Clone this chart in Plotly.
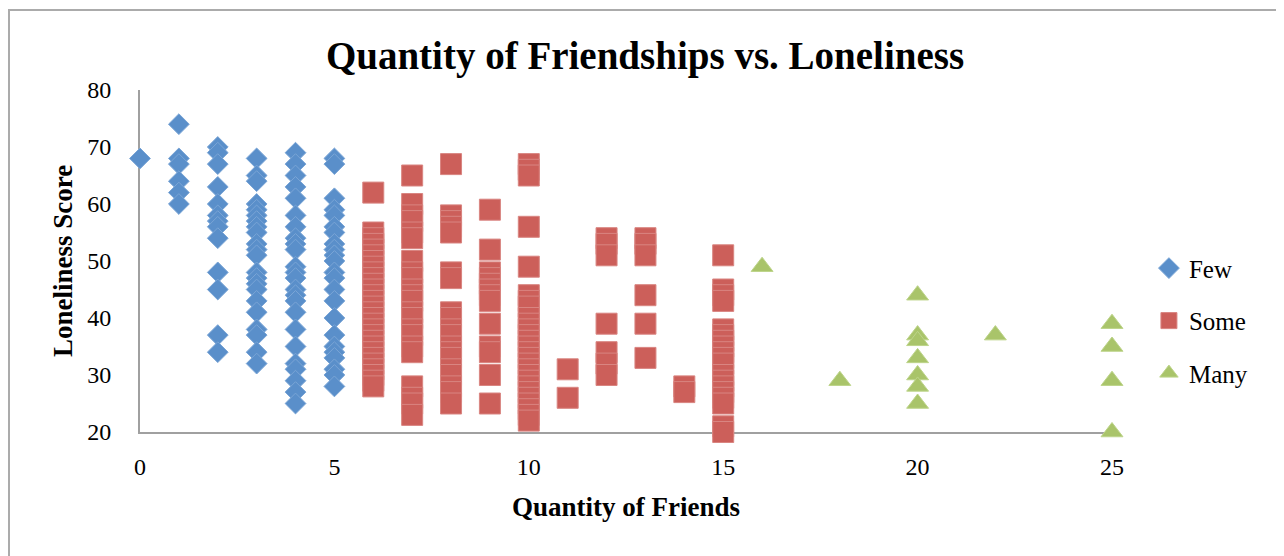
import plotly.graph_objects as go


# ==========================================================
# Data
# ==========================================================

few_friends = [0, 1, 2, 3, 4, 5]
few_scores = [
    [68],
    [74, 68, 67, 64, 62, 60],
    [70, 69, 67, 63, 60, 58, 57, 56, 54, 48, 45, 37, 34],
    [68, 65, 64, 60, 59, 58, 57, 56, 55, 53, 52, 51, 48, 47, 46, 45,
     43, 41, 38, 37, 34, 32],
    [69, 67, 65, 63, 61, 58, 56, 54, 53, 52, 49, 48, 47, 45, 44, 43,
     41, 38, 35, 32, 31, 29, 27, 25],
    [68, 67, 61, 59, 58, 56, 55, 53, 52, 51, 50, 48, 47, 45, 43, 40,
     37, 35, 34, 33, 31, 30, 28],
]

some_friends = [6, 7, 8, 9, 10, 11, 12, 13, 14, 15]
some_scores = [
    [62, 55, 54, 53, 52, 51, 50, 49, 48, 47, 46, 45, 44, 43, 42, 41,
     40, 39, 38, 37, 36, 35, 34, 33, 32, 31, 30, 29, 28],
    [65, 60, 58, 57, 55, 54, 50, 48, 47, 45, 44, 43, 41, 40, 38, 37,
     35, 34, 28, 26, 25, 23],
    [67, 58, 57, 56, 55, 48, 47, 41, 40, 38, 37, 35, 34, 33, 31, 30,
     28, 27, 25],
    [59, 52, 48, 47, 46, 45, 44, 43, 39, 35, 34, 30, 25],
    [67, 66, 65, 56, 49, 44, 43, 42, 40, 39, 38, 37, 36, 35, 34, 33,
     32, 31, 30, 29, 28, 27, 26, 25, 24, 23, 22],
    [31, 26],
    [54, 53, 51, 39, 34, 32, 30],
    [54, 53, 51, 44, 39, 33],
    [28, 27],
    [51, 45, 44, 43, 38, 37, 36, 35, 34, 33, 32, 30, 29, 28, 27, 26,
     25, 21, 20],
]

many_friends = [16, 18, 20, 22, 25]
many_scores = [
    [49],
    [29],
    [44, 37, 36, 33, 30, 28, 25],
    [37],
    [39, 35, 29, 20],
]

x_ticks = [0, 5, 10, 15, 20, 25]
y_ticks = [20, 30, 40, 50, 60, 70, 80]

FONT = "Liberation Serif"

# the page body adds an 8px offset, so the figure is laid out 8px up/left
OFFSET = 8


def flatten(friends, scores):
    xs, ys = [], []
    for f, col in zip(friends, scores):
        for s in col:
            xs.append(f)
            ys.append(s)
    return xs, ys


# ==========================================================
# Quantity of Friendships vs. Loneliness
# ==========================================================

def friendship_chart():

    series = [
        ("Few", few_friends, few_scores, "diamond", 16, "#5A8FCA", "#7AA5D6"),
        ("Some", some_friends, some_scores, "square", 21, "#CC5F5A", "#D98581"),
        ("Many", many_friends, many_scores, "triangle-up", 19, "#A9C46A", "#BDD48A"),
    ]

    fig = go.Figure()

    for name, friends, scores, symbol, size, color, edge in series:
        xs, ys = flatten(friends, scores)
        fig.add_trace(
            go.Scatter(
                x=xs,
                y=ys,
                name=name,
                mode="markers",
                legendgroup=name,
                cliponaxis=False,
                marker=dict(
                    symbol=symbol,
                    size=size,
                    color=color,
                    line=dict(color=edge, width=1),
                ),
            )
        )

    fig.update_layout(
        width=1284,
        height=556,
        paper_bgcolor="white",
        plot_bgcolor="white",
        font=dict(family=FONT, size=24, color="black"),
        margin=dict(
            l=140 - OFFSET,
            r=1284 - 1112 + OFFSET,
            t=90 - OFFSET,
            b=556 - 432 + OFFSET,
        ),
        title=dict(
            text="<b>Quantity of Friendships vs. Loneliness</b>",
            x=(645 - OFFSET) / 1284,
            xanchor="center",
            y=1 - (55 - OFFSET) / 556,
            yanchor="middle",
            font=dict(family=FONT, size=39, color="black"),
        ),
        showlegend=True,
        legend=dict(
            x=1.038,
            xanchor="left",
            y=0.325,
            yanchor="middle",
            font=dict(family=FONT, size=25, color="black"),
            tracegroupgap=17,
            bgcolor="rgba(0,0,0,0)",
        ),
    )

    fig.update_xaxes(
        range=[0, 25],
        tickvals=x_ticks,
        showgrid=False,
        zeroline=False,
        showline=True,
        linecolor="#A0A0A0",
        linewidth=2,
        ticks="",
        ticklabelstandoff=12,
        layer="below traces",
    )

    fig.update_yaxes(
        range=[20, 80],
        tickvals=y_ticks,
        showgrid=False,
        zeroline=False,
        showline=True,
        linecolor="#A0A0A0",
        linewidth=2,
        ticks="",
        ticklabelstandoff=22,
        layer="below traces",
    )

    # axis titles
    fig.add_annotation(
        text="<b>Quantity of Friends</b>",
        xref="paper",
        yref="paper",
        x=(626 - 140) / 972,
        y=(432 - 507) / 342,
        showarrow=False,
        xanchor="center",
        yanchor="middle",
        font=dict(family=FONT, size=27, color="black"),
    )
    fig.add_annotation(
        text="<b>Loneliness Score</b>",
        xref="paper",
        yref="paper",
        x=(63 - 140) / 972,
        y=(432 - 261) / 342,
        textangle=-90,
        showarrow=False,
        xanchor="center",
        yanchor="middle",
        font=dict(family=FONT, size=27, color="black"),
    )

    # chart area border (page pixels: left 9, top 9, right 1282, below the view)
    fig.add_shape(
        type="rect",
        xref="paper",
        yref="paper",
        x0=(9 - 140) / 972,
        x1=(1281 - 140) / 972,
        y0=(432 - 580) / 342,
        y1=(432 - 10) / 342,
        line=dict(color="#ABABAB", width=2),
        fillcolor="rgba(0,0,0,0)",
        layer="below",
    )

    return fig


fig = friendship_chart()
fig.write_html("out.html")
